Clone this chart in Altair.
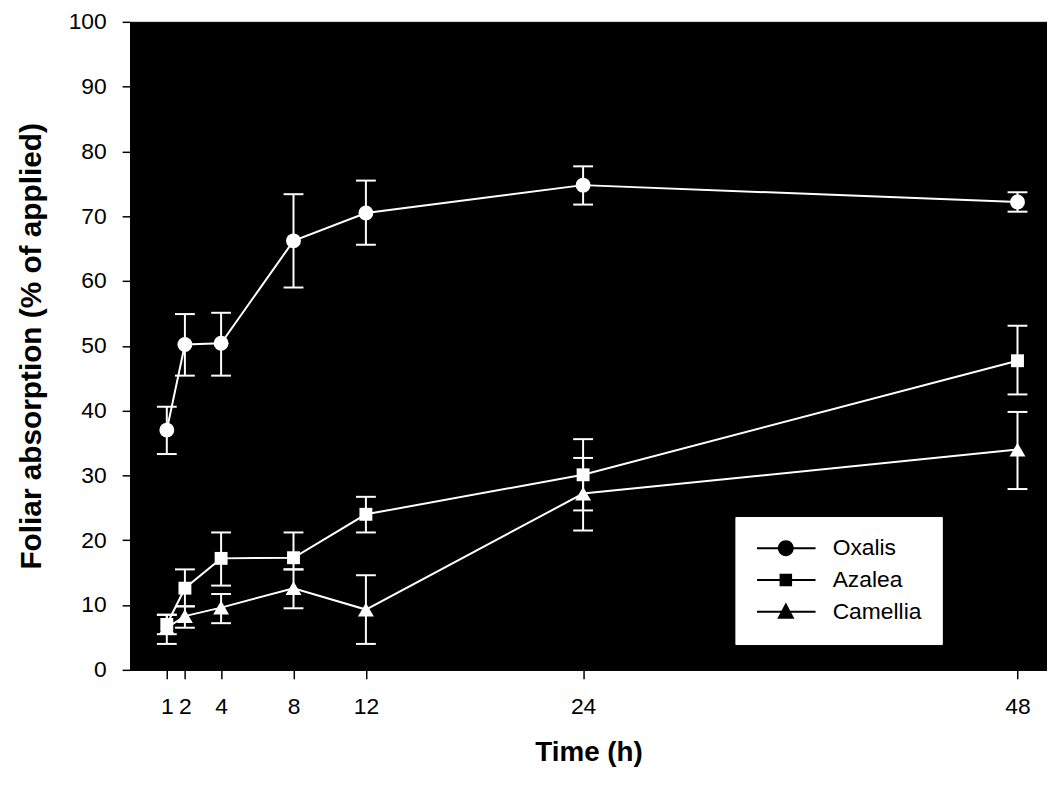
import altair as alt
import pandas as pd

# ---- data ----
times = [1, 2, 4, 8, 12, 24, 48]
species = ["Oxalis", "Azalea", "Camellia"]

oxalis_mean = [37.0, 50.2, 50.4, 66.2, 70.5, 74.8, 72.2]
oxalis_lo = [33.3, 45.4, 45.4, 59.0, 65.6, 71.8, 70.7]
oxalis_hi = [40.6, 54.9, 55.1, 73.4, 75.5, 77.7, 73.7]

azalea_mean = [7.0, 12.6, 17.2, 17.3, 24.0, 30.1, 47.7]
azalea_lo = [5.5, 9.8, 13.0, 15.5, 21.2, 24.6, 42.5]
azalea_hi = [8.5, 15.5, 21.2, 21.2, 26.7, 35.6, 53.1]

camellia_mean = [6.5, 8.3, 9.6, 12.6, 9.3, 27.2, 34.0]
camellia_lo = [4.0, 6.5, 7.2, 9.5, 4.0, 21.5, 27.9]
camellia_hi = [8.5, 9.8, 11.7, 15.5, 14.6, 32.7, 39.8]

y_ticks = [0, 10, 20, 30, 40, 50, 60, 70, 80, 90, 100]
marker_sizes = [225, 169, 256]
marker_shapes = ["circle", "square", "triangle-up"]
# legend symbols: short line (thin filled bar) with the marker on it (custom SVG paths)
legend_shapes = [
    "M-1.39,-0.14H7.04V0.14H-1.39ZM3.9,0A1.14,1.14,0,1,1,1.62,0A1.14,1.14,0,1,1,3.9,0Z",
    "M-1.39,-0.14H7.04V0.14H-1.39ZM1.86,-0.9H3.66V0.9H1.86Z",
    "M-1.39,-0.14H7.04V0.14H-1.39ZM2.76,-1.35L4.0,1.0H1.52Z",
]

rows = []
series = [
    ("Oxalis", oxalis_mean, oxalis_lo, oxalis_hi, marker_sizes[0]),
    ("Azalea", azalea_mean, azalea_lo, azalea_hi, marker_sizes[1]),
    ("Camellia", camellia_mean, camellia_lo, camellia_hi, marker_sizes[2]),
]
for name, m, lo, hi, sz in series:
    for t, a, b, c in zip(times, m, lo, hi):
        rows.append({"species": name, "time": t, "mean": a, "lo": b, "hi": c, "msize": sz})
df = pd.DataFrame(rows)

FONT = "Liberation Sans"

xscale = alt.Scale(domain=[-1.03, 49.63], nice=False, zero=False)
yscale = alt.Scale(domain=[0, 100], nice=False, zero=False)

x = alt.X(
    "time:Q",
    scale=xscale,
    axis=alt.Axis(
        values=times, title="Time (h)", tickSize=9, labelPadding=17,
        labelFontSize=23, titleFontSize=28, titlePadding=20, labelOverlap=False,
        labelFlush=False,
    ),
)
y = alt.Y(
    "mean:Q",
    scale=yscale,
    axis=alt.Axis(
        values=y_ticks, title="Foliar absorption (% of applied)", tickSize=8,
        labelPadding=16, labelFontSize=23, titleFontSize=30, titlePadding=22,
    ),
)

base = alt.Chart(df)

lines = base.mark_line(color="white", strokeWidth=2).encode(
    x=x, y=y, detail="species:N", order="time:Q"
)
rules = base.mark_rule(color="white", strokeWidth=2).encode(
    x="time:Q", y="lo:Q", y2="hi:Q"
)
caps_hi = base.mark_tick(
    color="white", thickness=2, size=20, orient="horizontal", opacity=1
).encode(x="time:Q", y="hi:Q")
caps_lo = base.mark_tick(
    color="white", thickness=2, size=20, orient="horizontal", opacity=1
).encode(x="time:Q", y="lo:Q")
points = base.mark_point(filled=True, color="white", opacity=1).encode(
    x="time:Q",
    y="mean:Q",
    shape=alt.Shape(
        "species:N",
        scale=alt.Scale(domain=species, range=marker_shapes),
        legend=None,
    ),
    size=alt.Size("msize:Q", scale=None),
)
legend_layer = base.transform_filter("false").mark_point(
    filled=True, fill="black", stroke="black", strokeWidth=2, opacity=1
).encode(
    x="time:Q",
    y="mean:Q",
    shape=alt.Shape(
        "species:N",
        scale=alt.Scale(domain=species, range=legend_shapes),
        legend=alt.Legend(
            title=None, orient="none", legendX=610, legendY=499,
            fillColor="white", strokeColor="white", padding=20, rowPadding=8,
            labelFont=FONT, labelFontSize=23, labelColor="black",
            labelExpr="datum.label + '  '",
            symbolSize=196, symbolStrokeWidth=0, symbolStrokeColor="black",
            symbolFillColor="black", labelOffset=55, symbolOpacity=1,
        ),
    ),
)

chart = (
    alt.layer(lines, rules, caps_hi, caps_lo, points, legend_layer)
    .resolve_scale(shape="independent")
    .properties(
        width=924,
        height=653,
        padding={"left": 123, "top": 11, "right": 0, "bottom": 98},
        autosize=alt.AutoSizeParams(type="none"),
        background="white",
    )
    .configure_view(fill="black", stroke="black")
    .configure_axis(
        grid=False, domainColor="black", tickColor="black", labelColor="black",
        titleColor="black", labelFont=FONT, titleFont=FONT, titleFontWeight="bold",
        domainWidth=1, tickWidth=1.5,
    )
)

chart.save("out.html", embed_options={"renderer": "svg", "actions": False})
